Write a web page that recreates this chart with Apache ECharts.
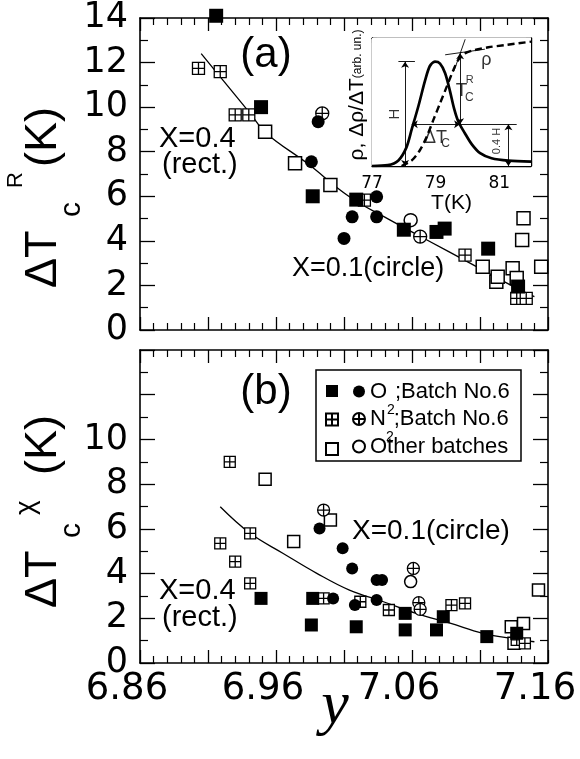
<!DOCTYPE html>
<html><head><meta charset="utf-8">
<script src="https://cdn.jsdelivr.net/npm/echarts@6/dist/echarts.min.js"></script>
<style>html,body{margin:0;padding:0;background:#fff}#c{width:580px;height:759px}</style>
</head><body><div id="c"></div>
<script>
// ================= DATA =================
// shared x tick labels (composition y)
const xLabelVals = [6.86, 6.96, 7.06, 7.16];
const aYLabelVals = [0, 2, 4, 6, 8, 10, 12, 14];
const bYLabelVals = [0, 2, 4, 6, 8, 10];
const insetXLabelVals = [77, 79, 81];

// Panel (a): resistive transition width  [y, dTc^R (K)]
const aO2Rect  = [[6.916,14.1],[6.949,10.0],[6.987,6.0],[7.019,5.85],[7.054,4.5],[7.078,4.4],[7.084,4.55],[7.116,3.65],[7.138,1.95]];
const aO2Circ  = [[6.991,9.35],[6.986,7.55],[7.034,5.98],[7.016,5.08],[7.034,5.08],[7.010,4.11]];
const aN2Rect  = [[6.903,11.74],[6.919,11.59],[6.930,9.65],[6.940,9.65],[7.025,5.83],[7.099,3.36],[7.137,1.42],[7.144,1.42]];
const aN2Circ  = [[6.994,9.72],[7.066,4.19]];
const aOthRect = [[6.952,8.90],[6.974,7.48],[7.000,6.51],[7.112,2.84],[7.122,2.17],[7.123,2.39],[7.134,2.77],[7.137,2.33],[7.142,5.01],[7.141,4.04],[7.155,2.84]];
const aOthCirc = [[7.059,4.93]];
const aCurve   = [[6.905,12.4],[6.919,11.36],[6.941,9.72],[6.953,8.82],[6.983,7.48],[7.014,5.98],[7.044,4.93],[7.071,4.04],[7.103,2.99],[7.137,1.87],[7.150,1.50]];

// Panel (b): susceptibility transition width  [y, dTc^chi (K)]
const bO2Rect  = [[6.949,2.89],[6.987,2.89],[6.986,1.70],[7.019,1.62],[7.055,2.22],[7.055,1.48],[7.078,1.48],[7.083,2.07],[7.115,1.18],[7.137,1.33]];
const bO2Circ  = [[6.992,6.02],[7.009,5.13],[7.016,4.23],[7.034,3.71],[7.038,3.71],[7.002,2.89],[7.018,2.59],[7.034,2.82]];
const bN2Rect  = [[6.926,9.00],[6.919,5.35],[6.941,5.80],[6.930,4.53],[6.941,3.56],[6.995,2.89],[7.022,2.74],[7.043,2.37],[7.089,2.59],[7.099,2.67],[7.137,1.03],[7.143,0.88]];
const bN2Circ  = [[6.995,6.84],[7.061,4.23],[7.065,2.70],[7.066,2.40]];
const bOthRect = [[6.952,8.22],[6.973,5.43],[7.000,6.40],[7.153,3.26],[7.133,1.62],[7.142,1.77],[7.135,0.88]];
const bOthCirc = [[7.059,3.64]];
const bCurve   = [[6.919,6.99],[6.941,5.80],[6.965,4.91],[6.990,4.01],[7.014,3.26],[7.039,2.74],[7.063,2.22],[7.088,1.78],[7.112,1.33],[7.137,1.06],[7.150,0.95]];

// Inset: T (K) vs arbitrary units
const insetPeak = [[77.0,0.0],[77.5,0.05],[77.83,0.35],[78.08,1.15],[78.25,2.3],[78.46,3.75],[78.67,5.35],[78.82,6.25],[78.98,6.52],[79.14,6.4],[79.30,5.8],[79.45,4.7],[79.58,3.6],[79.71,2.8],[79.92,2.05],[80.14,1.35],[80.40,0.8],[80.76,0.48],[81.29,0.33],[82.0,0.27]];
const insetRho  = [[77.93,0.0],[78.25,0.35],[78.51,1.0],[78.72,1.83],[78.93,2.88],[79.14,3.92],[79.35,4.96],[79.56,6.0],[79.71,6.62],[79.92,7.04],[80.24,7.25],[80.66,7.42],[81.18,7.56],[82.0,7.77]];
// construction lines (H, 0.4H, dTc, Tc^R)
const peakH = 6.52, level04 = 2.61;
const arrowSegs = [
  [[78.04,0],[78.04,peakH]],          // H
  [[78.25,level04],[79.77,level04]],  // dTc
  [[79.77,level04],[79.77,7.04]],     // Tc^R
  [[81.29,0],[81.29,level04]]         // 0.4H
];
const plainSegs = [
  [[77.83,peakH],[78.35,peakH]],      // bar on H
  [[79.77,level04],[81.55,level04]],  // extension of 0.4H level
  [[79.30,6.95],[80.55,7.30]],        // tangent to rho (normal state)
  [[79.58,5.95],[79.93,7.92]]         // tangent to rho (transition)
];

// ================= CHART =================
const FONT = 'Liberation Sans';
const NUMF = 'DejaVu Sans';
const SYM_HATCH = 'path://M0,0H10V10H0ZM5,0V10M0,5H10';
const SYM_CROSS = 'path://M0,5A5,5,0,1,1,10,5A5,5,0,1,1,0,5ZM5,0V10M0,5H10';

function inList(list, v) { return list.some(t => Math.abs(t - v) < 1e-6); }

function mkX(gi, pos, label) {
  return {
    type: 'value', gridIndex: gi, position: pos, min: 6.86, max: 7.16, interval: 0.05,
    axisLine: {show: true, onZero: false, lineStyle: {color: '#000', width: 1.6}},
    axisTick: {show: true, inside: true, length: 13, lineStyle: {color: '#000', width: 1.3}},
    minorTick: {show: true, splitNumber: 5, length: 7, lineStyle: {color: '#000', width: 1.2}},
    splitLine: {show: false}, minorSplitLine: {show: false},
    axisLabel: label ? {
      show: true, color: '#000', fontFamily: NUMF, fontSize: 37, margin: 8,
      padding: [0, 26, 0, 0], hideOverlap: false, showMinLabel: true, showMaxLabel: true,
      formatter: v => inList(xLabelVals, v) ? v.toFixed(2) : ''
    } : {show: false}
  };
}
function mkY(gi, pos, labels) {
  return {
    type: 'value', gridIndex: gi, position: pos, min: 0, max: 14, interval: 2,
    axisLine: {show: true, onZero: false, lineStyle: {color: '#000', width: 1.6}},
    axisTick: {show: true, inside: true, length: 15, lineStyle: {color: '#000', width: 1.3}},
    minorTick: {show: true, splitNumber: 2, length: 8, lineStyle: {color: '#000', width: 1.2}},
    splitLine: {show: false}, minorSplitLine: {show: false},
    axisLabel: labels ? {
      show: true, color: '#000', fontFamily: NUMF, fontSize: 35, margin: 12,
      hideOverlap: false, showMinLabel: true, showMaxLabel: true,
      formatter: v => inList(labels, v) ? String(v) : ''
    } : {show: false}
  };
}
function mkIX(pos, label) {
  return {
    type: 'value', gridIndex: 2, position: pos, min: 77, max: 82, interval: 0.5,
    axisLine: {show: true, onZero: false, lineStyle: {color: '#000', width: 1.4}},
    axisTick: {show: true, inside: true, length: 5, lineStyle: {color: '#000', width: 1.1}},
    splitLine: {show: false},
    axisLabel: label ? {show: true, color: '#000', fontFamily: NUMF, fontSize: 17, margin: 9,
      hideOverlap: false, formatter: v => inList(insetXLabelVals, v) ? String(v) : ''} : {show: false},
    name: label ? 'T(K)' : '', nameLocation: 'middle', nameGap: 27, nameMoveOverlap: false,
    nameTextStyle: {color: '#000', fontFamily: FONT, fontSize: 21}
  };
}
function mkIY(pos, name) {
  return {
    type: 'value', gridIndex: 2, position: pos, min: 0, max: 8, interval: 1,
    axisLine: {show: true, onZero: false, lineStyle: {color: '#000', width: 1.4}},
    axisTick: {show: true, inside: true, length: 5, lineStyle: {color: '#000', width: 1.1}},
    splitLine: {show: false}, axisLabel: {show: false},
    name: name ? '{a|ρ, Δρ/ΔT}{b|(arb. un.)}' : '', nameLocation: 'middle', nameRotate: 90, nameGap: 4,
    nameMoveOverlap: false,
    nameTextStyle: {color: '#000', padding: [0, 0, 0, 14],
      rich: {a: {fontFamily: FONT, fontSize: 21, color: '#000'}, b: {fontFamily: FONT, fontSize: 12, color: '#000'}}}
  };
}

function sc(name, data, g, kind, size) {
  return {
    type: 'scatter', name, data, xAxisIndex: g * 2, yAxisIndex: g * 2, clip: false,
    symbol: kind.sym, symbolSize: size, symbolKeepAspect: true,
    itemStyle: {color: kind.fill, borderColor: '#000', borderWidth: kind.bw, opacity: 1},
    emphasis: {disabled: true}, z: kind.z
  };
}
const K = {
  fillRect: {sym: 'rect', fill: '#000', bw: 0, z: 5},
  fillCirc: {sym: 'circle', fill: '#000', bw: 0, z: 5},
  hatchRect: {sym: SYM_HATCH, fill: '#fff', bw: 1.3, z: 4},
  crossCirc: {sym: SYM_CROSS, fill: '#fff', bw: 1.3, z: 4},
  openRect: {sym: 'rect', fill: '#fff', bw: 1.5, z: 3},
  openCirc: {sym: 'circle', fill: '#fff', bw: 1.5, z: 3}
};
const N = {o2r: 'O2 rect', o2c: 'O2 circle', n2r: 'N2 rect', n2c: 'N2 circle', otr: 'Other rect', otc: 'Other circle'};

function curve(data, g) {
  return {type: 'line', data, xAxisIndex: g * 2, yAxisIndex: g * 2, smooth: 0.4, showSymbol: false,
    symbol: 'none', lineStyle: {color: '#000', width: 1.3}, z: 2, silent: true};
}

const series = [
  curve(aCurve, 0),
  sc(N.otr, aOthRect, 0, K.openRect, 13), sc(N.otc, aOthCirc, 0, K.openCirc, 13),
  sc(N.n2r, aN2Rect, 0, K.hatchRect, 12), sc(N.n2c, aN2Circ, 0, K.crossCirc, 13),
  sc(N.o2r, aO2Rect, 0, K.fillRect, 14), sc(N.o2c, aO2Circ, 0, K.fillCirc, 13),
  curve(bCurve, 1),
  sc(N.otr, bOthRect, 1, K.openRect, 12), sc(N.otc, bOthCirc, 1, K.openCirc, 12),
  sc(N.n2r, bN2Rect, 1, K.hatchRect, 11), sc(N.n2c, bN2Circ, 1, K.crossCirc, 12),
  sc(N.o2r, bO2Rect, 1, K.fillRect, 13), sc(N.o2c, bO2Circ, 1, K.fillCirc, 12),
  // inset
  {type: 'line', data: insetPeak, xAxisIndex: 4, yAxisIndex: 4, smooth: 0.3, showSymbol: false, symbol: 'none',
    lineStyle: {color: '#000', width: 2.7}, z: 6, silent: true},
  {type: 'line', data: insetRho, xAxisIndex: 4, yAxisIndex: 4, smooth: 0.3, showSymbol: false, symbol: 'none',
    lineStyle: {color: '#000', width: 2.4, type: [7, 4]}, z: 6, silent: true},
  {type: 'lines', coordinateSystem: 'cartesian2d', xAxisIndex: 4, yAxisIndex: 4, z: 6, silent: true,
    symbol: ['arrow', 'arrow'], symbolSize: 6, lineStyle: {color: '#000', width: 0.9, opacity: 1},
    data: arrowSegs.map(c => ({coords: c}))},
  {type: 'lines', coordinateSystem: 'cartesian2d', xAxisIndex: 4, yAxisIndex: 4, z: 6, silent: true,
    symbol: ['none', 'none'], lineStyle: {color: '#000', width: 0.9, opacity: 1},
    data: plainSegs.map(c => ({coords: c}))},
  {type: 'scatter', xAxisIndex: 4, yAxisIndex: 4, z: 7, silent: true, symbolSize: 2,
    itemStyle: {color: 'rgba(0,0,0,0)'},
    labelLayout: {hideOverlap: false},
    label: {show: true, position: 'inside', color: '#000', fontFamily: FONT},
    data: [
      {value: [77.72, 3.25], label: {formatter: 'H', fontSize: 15, rotate: 90}},
      {value: [79.0, 1.72], label: {formatter: 'ΔT', fontSize: 18}},
      {value: [79.31, 1.42], label: {formatter: 'C', fontSize: 12}},
      {value: [79.82, 4.72], label: {formatter: 'T', fontSize: 19}},
      {value: [80.07, 5.36], label: {formatter: 'R', fontSize: 11}},
      {value: [80.06, 4.26], label: {formatter: 'C', fontSize: 12}},
      {value: [80.60, 6.63], label: {formatter: 'ρ', fontSize: 18}},
      {value: [80.92, 1.56], label: {formatter: '0.4 H', fontSize: 11, rotate: 90}}
    ]}
];

function txt(x, y, text, size, extra) {
  return Object.assign({type: 'text', x, y, z: 10, style: Object.assign({
    text, fontSize: size, fontFamily: FONT, fill: '#000',
    align: 'left', textAlign: 'left', verticalAlign: 'middle', textVerticalAlign: 'middle'}, extra || {})});
}

const graphic = [
  // panel labels and annotations
  txt(266, 55, '(a)', 42, {align: 'center', textAlign: 'center'}),
  txt(266, 392, '(b)', 42, {align: 'center', textAlign: 'center'}),
  txt(159, 139, 'X=0.4', 29),
  txt(162, 165, '(rect.)', 29),
  txt(292, 269, 'X=0.1(circle)', 27),
  txt(352, 531, 'X=0.1(circle)', 28),
  txt(159, 591, 'X=0.4', 29),
  txt(162, 618, '(rect.)', 29),
  // x-axis title
  txt(335, 707, 'y', 62, {align: 'center', textAlign: 'center', fontFamily: 'Liberation Serif', fontStyle: 'italic'}),
  // y-axis title (a)
  {type: 'group', x: 0, y: 288, rotation: Math.PI / 2, children: [
    txt(0, 44, 'ΔT', 45), txt(71, 72, 'c', 30), txt(100, 15.5, 'R', 22), txt(121, 44, '(K)', 45)
  ]},
  // y-axis title (b)
  {type: 'group', x: 0, y: 608, rotation: Math.PI / 2, children: [
    txt(0, 44, 'ΔT', 45), txt(70, 72, 'c', 30), txt(93, 26, 'χ', 28), txt(133, 44, '(K)', 45)
  ]}
];

const legendLabels = {
  'O2 circle': '{m|O}{s|2}{m|;Batch No.6}',
  'N2 circle': '{m|N}{s|2}{m|;Batch No.6}',
  'Other circle': '{m|Other batches}'
};

const option = {
  animation: false,
  backgroundColor: '#fff',
  grid: [
    {left: 140, top: 18, width: 408, height: 312, containLabel: false},
    {left: 140, top: 350, width: 408, height: 313, containLabel: false},
    {left: 372, top: 38, width: 159, height: 128, containLabel: false, show: true, backgroundColor: '#fff', borderWidth: 0, z: 1}
  ],
  xAxis: [mkX(0, 'bottom', false), mkX(0, 'top', false), mkX(1, 'bottom', true), mkX(1, 'top', false), mkIX('bottom', true), mkIX('top', false)],
  yAxis: [mkY(0, 'left', aYLabelVals), mkY(0, 'right', null), mkY(1, 'left', bYLabelVals), mkY(1, 'right', null), mkIY('left', true), mkIY('right', false)],
  legend: [
    {show: true, orient: 'vertical', left: 316, top: 370, padding: [15, 182, 5, 9], itemWidth: 12, itemHeight: 12,
      itemGap: 15.5, itemTextGap: 0, formatter: () => '', borderColor: '#000', borderWidth: 1.5, backgroundColor: '#fff',
      selectedMode: false, data: [N.o2r, N.n2r, N.otr], textStyle: {fontSize: 10}, z: 8},
    {show: true, orient: 'vertical', left: 352, top: 366, padding: 0, itemWidth: 12, itemHeight: 12,
      itemGap: -23.5, itemTextGap: 9, selectedMode: false, data: [N.o2c, N.n2c, N.otc],
      formatter: name => legendLabels[name],
      textStyle: {color: '#000', fontFamily: FONT, fontSize: 22, lineHeight: 51,
        rich: {m: {fontFamily: FONT, fontSize: 22, lineHeight: 51, color: '#000'},
               s: {fontFamily: FONT, fontSize: 14, lineHeight: 14, padding: [37, 0, 0, 0], color: '#000'}}},
      z: 9}
  ],
  graphic,
  series
};
const chart = echarts.init(document.getElementById('c'));
chart.setOption(option);
</script>
</body></html>
